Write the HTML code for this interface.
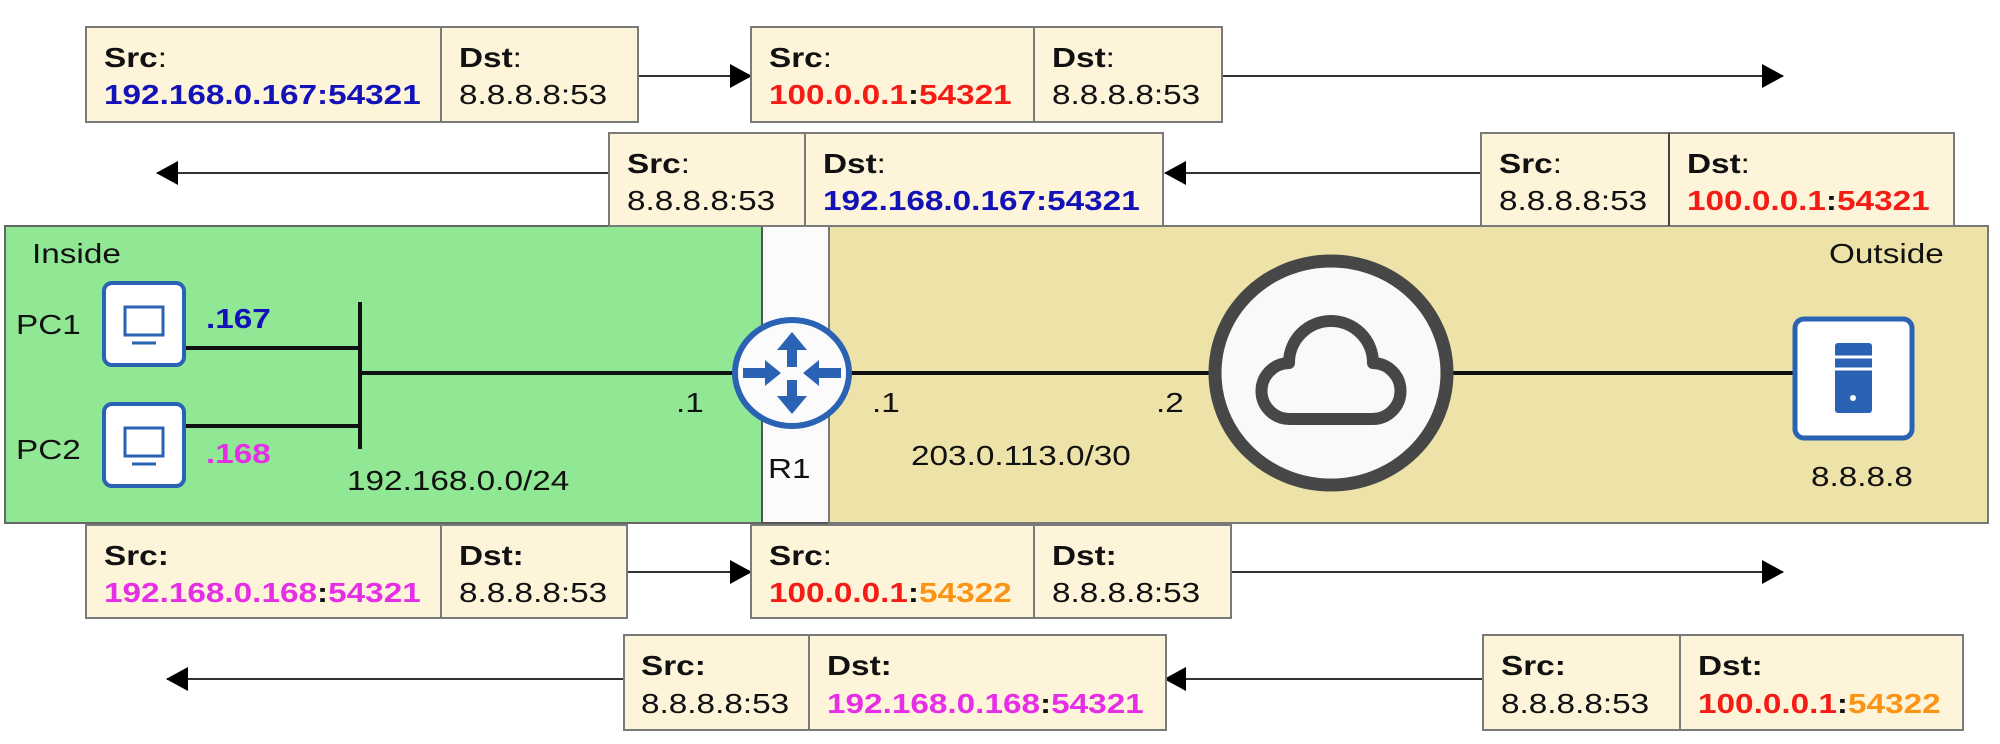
<!DOCTYPE html>
<html><head><meta charset="utf-8"><style>
html,body{margin:0;padding:0;background:#fff;}
svg{display:block}
text{font-family:"Liberation Sans",Arial,sans-serif;font-size:28px;fill:#111}
.b{font-weight:bold}
.bl{fill:#1212b8;font-weight:bold}
.rd{fill:#f41c14;font-weight:bold}
.mg{fill:#e62ee6;font-weight:bold}
.or{fill:#fb9414;font-weight:bold}
.box{fill:#fdf4da;stroke:#7a7a7a;stroke-width:2}
</style></head><body>
<svg width="2000" height="744" viewBox="0 0 2000 744" xmlns="http://www.w3.org/2000/svg">
<defs>
<marker id="ah" markerWidth="22" markerHeight="24" refX="21" refY="12" orient="auto" markerUnits="userSpaceOnUse" viewBox="0 0 22 24"><path d="M0,0 L22,12 L0,24 Z" fill="#000"/></marker>
</defs>
<rect x="5" y="226" width="757" height="297" fill="#90e894" stroke="#666" stroke-width="2"/>
<rect x="762" y="226" width="67" height="297" fill="#fbfbfb" stroke="#555" stroke-width="2"/>
<rect x="829" y="226" width="1159" height="297" fill="#ede3a8" stroke="#777" stroke-width="2"/>

<g stroke="#111" stroke-width="4">
<line x1="186" y1="348" x2="360" y2="348"/>
<line x1="186" y1="426" x2="360" y2="426"/>
<line x1="360" y1="302" x2="360" y2="449"/>
<line x1="360" y1="373" x2="1212" y2="373"/>
<line x1="1451" y1="373" x2="1795" y2="373"/>
</g>

<g>
<rect x="104" y="283" width="80" height="82" rx="8" fill="#fff" stroke="#2a62b4" stroke-width="4"/>
<rect x="125" y="307" width="38" height="28" fill="none" stroke="#2a62b4" stroke-width="3"/>
<line x1="132" y1="343" x2="156" y2="343" stroke="#2a62b4" stroke-width="3"/>
<rect x="104" y="404" width="80" height="82" rx="8" fill="#fff" stroke="#2a62b4" stroke-width="4"/>
<rect x="125" y="428" width="38" height="28" fill="none" stroke="#2a62b4" stroke-width="3"/>
<line x1="132" y1="464" x2="156" y2="464" stroke="#2a62b4" stroke-width="3"/>
</g>

<ellipse cx="792" cy="373" rx="57" ry="53" fill="#fbfbfb" stroke="#2a62b4" stroke-width="6"/>
<g fill="#2a62b4">
<path d="M792,332 L807,350 L797,350 L797,367 L787,367 L787,350 L777,350 Z"/>
<path d="M792,414 L807,396 L797,396 L797,380 L787,380 L787,396 L777,396 Z"/>
<path d="M781,373 L765,360 L765,368 L743,368 L743,378 L765,378 L765,386 Z"/>
<path d="M803,373 L819,360 L819,368 L841,368 L841,378 L819,378 L819,386 Z"/>
</g>

<ellipse cx="1331" cy="373" rx="116" ry="112" fill="#f9f9f9" stroke="#474747" stroke-width="13"/>
<path d="M1290,419 H1372 A28,28 0 1 0 1373,363 A42,42 0 1 0 1289,363 A28,28 0 1 0 1290,419 Z" fill="none" stroke="#474747" stroke-width="12" stroke-linejoin="round"/>

<rect x="1795" y="319" width="117" height="119" rx="9" fill="#fff" stroke="#2a62b4" stroke-width="5"/>
<rect x="1835" y="343" width="37" height="70" rx="3" fill="#2a62b4"/>
<line x1="1835" y1="357" x2="1872" y2="357" stroke="#fff" stroke-width="3"/>
<line x1="1835" y1="369" x2="1872" y2="369" stroke="#fff" stroke-width="3"/>
<circle cx="1853" cy="398" r="3" fill="#fff"/>

<text transform="translate(32,263) scale(1.19,1)">Inside</text>
<text transform="translate(1829,263) scale(1.19,1)">Outside</text>
<text transform="translate(16,334) scale(1.19,1)">PC1</text>
<text transform="translate(16,459) scale(1.19,1)">PC2</text>
<text class="bl" transform="translate(206,328) scale(1.19,1)">.167</text>
<text class="mg" transform="translate(206,463) scale(1.19,1)">.168</text>
<text transform="translate(676,412) scale(1.19,1)">.1</text>
<text transform="translate(872,412) scale(1.19,1)">.1</text>
<text transform="translate(1156,412) scale(1.19,1)">.2</text>
<text transform="translate(768,478) scale(1.19,1)">R1</text>
<text transform="translate(347,490) scale(1.19,1)">192.168.0.0/24</text>
<text transform="translate(911,465) scale(1.19,1)">203.0.113.0/30</text>
<text transform="translate(1811,486) scale(1.19,1)">8.8.8.8</text>

<g stroke="#333" stroke-width="2" marker-end="url(#ah)">
<line x1="638" y1="76" x2="751" y2="76"/>
<line x1="1222" y1="76" x2="1783" y2="76"/>
<line x1="609" y1="173" x2="157" y2="173"/>
<line x1="1481" y1="173" x2="1165" y2="173"/>
<line x1="627" y1="572" x2="751" y2="572"/>
<line x1="1231" y1="572" x2="1783" y2="572"/>
<line x1="624" y1="679" x2="167" y2="679"/>
<line x1="1483" y1="679" x2="1165" y2="679"/>
</g>

<rect class="box" x="86" y="27" width="552" height="95"/><line x1="441" y1="27" x2="441" y2="122" stroke="#7a7a7a" stroke-width="2"/>
<text transform="translate(104,67) scale(1.19,1)"><tspan class="b">Src</tspan>:</text>
<text transform="translate(104,104) scale(1.19,1)" class="bl">192.168.0.167:54321</text>
<text transform="translate(459,67) scale(1.19,1)"><tspan class="b">Dst</tspan>:</text>
<text transform="translate(459,104) scale(1.19,1)">8.8.8.8:53</text>

<rect class="box" x="751" y="27" width="471" height="95"/><line x1="1034" y1="27" x2="1034" y2="122" stroke="#7a7a7a" stroke-width="2"/>
<text transform="translate(769,67) scale(1.19,1)"><tspan class="b">Src</tspan>:</text>
<text transform="translate(769,104) scale(1.19,1)"><tspan class="rd">100.0.0.1</tspan><tspan class="b">:</tspan><tspan class="rd">54321</tspan></text>
<text transform="translate(1052,67) scale(1.19,1)"><tspan class="b">Dst</tspan>:</text>
<text transform="translate(1052,104) scale(1.19,1)">8.8.8.8:53</text>

<rect class="box" x="609" y="133" width="554" height="93"/><line x1="805" y1="133" x2="805" y2="226" stroke="#7a7a7a" stroke-width="2"/>
<text transform="translate(627,173) scale(1.19,1)"><tspan class="b">Src</tspan>:</text>
<text transform="translate(627,210) scale(1.19,1)">8.8.8.8:53</text>
<text transform="translate(823,173) scale(1.19,1)"><tspan class="b">Dst</tspan>:</text>
<text transform="translate(823,210) scale(1.19,1)" class="bl">192.168.0.167:54321</text>

<rect class="box" x="1481" y="133" width="473" height="93"/><line x1="1669" y1="133" x2="1669" y2="226" stroke="#444" stroke-width="2"/>
<text transform="translate(1499,173) scale(1.19,1)"><tspan class="b">Src</tspan>:</text>
<text transform="translate(1499,210) scale(1.19,1)">8.8.8.8:53</text>
<text transform="translate(1687,173) scale(1.19,1)"><tspan class="b">Dst</tspan>:</text>
<text transform="translate(1687,210) scale(1.19,1)"><tspan class="rd">100.0.0.1</tspan><tspan class="b">:</tspan><tspan class="rd">54321</tspan></text>

<rect class="box" x="86" y="525" width="541" height="93"/><line x1="441" y1="525" x2="441" y2="618" stroke="#7a7a7a" stroke-width="2"/>
<text transform="translate(104,565) scale(1.19,1)" class="b">Src:</text>
<text transform="translate(104,602) scale(1.19,1)"><tspan class="mg">192.168.0.168</tspan><tspan class="b">:</tspan><tspan class="mg">54321</tspan></text>
<text transform="translate(459,565) scale(1.19,1)" class="b">Dst:</text>
<text transform="translate(459,602) scale(1.19,1)">8.8.8.8:53</text>

<rect class="box" x="751" y="525" width="480" height="93"/><line x1="1034" y1="525" x2="1034" y2="618" stroke="#7a7a7a" stroke-width="2"/>
<text transform="translate(769,565) scale(1.19,1)"><tspan class="b">Src</tspan>:</text>
<text transform="translate(769,602) scale(1.19,1)"><tspan class="rd">100.0.0.1</tspan><tspan class="b">:</tspan><tspan class="or">54322</tspan></text>
<text transform="translate(1052,565) scale(1.19,1)" class="b">Dst:</text>
<text transform="translate(1052,602) scale(1.19,1)">8.8.8.8:53</text>

<rect class="box" x="624" y="635" width="542" height="95"/><line x1="809" y1="635" x2="809" y2="730" stroke="#7a7a7a" stroke-width="2"/>
<text transform="translate(641,675) scale(1.19,1)" class="b">Src:</text>
<text transform="translate(641,713) scale(1.19,1)">8.8.8.8:53</text>
<text transform="translate(827,675) scale(1.19,1)" class="b">Dst:</text>
<text transform="translate(827,713) scale(1.19,1)"><tspan class="mg">192.168.0.168</tspan><tspan class="b">:</tspan><tspan class="mg">54321</tspan></text>

<rect class="box" x="1483" y="635" width="480" height="95"/><line x1="1680" y1="635" x2="1680" y2="730" stroke="#7a7a7a" stroke-width="2"/>
<text transform="translate(1501,675) scale(1.19,1)" class="b">Src:</text>
<text transform="translate(1501,713) scale(1.19,1)">8.8.8.8:53</text>
<text transform="translate(1698,675) scale(1.19,1)" class="b">Dst:</text>
<text transform="translate(1698,713) scale(1.19,1)"><tspan class="rd">100.0.0.1</tspan><tspan class="b">:</tspan><tspan class="or">54322</tspan></text>
</svg>
</body></html>
